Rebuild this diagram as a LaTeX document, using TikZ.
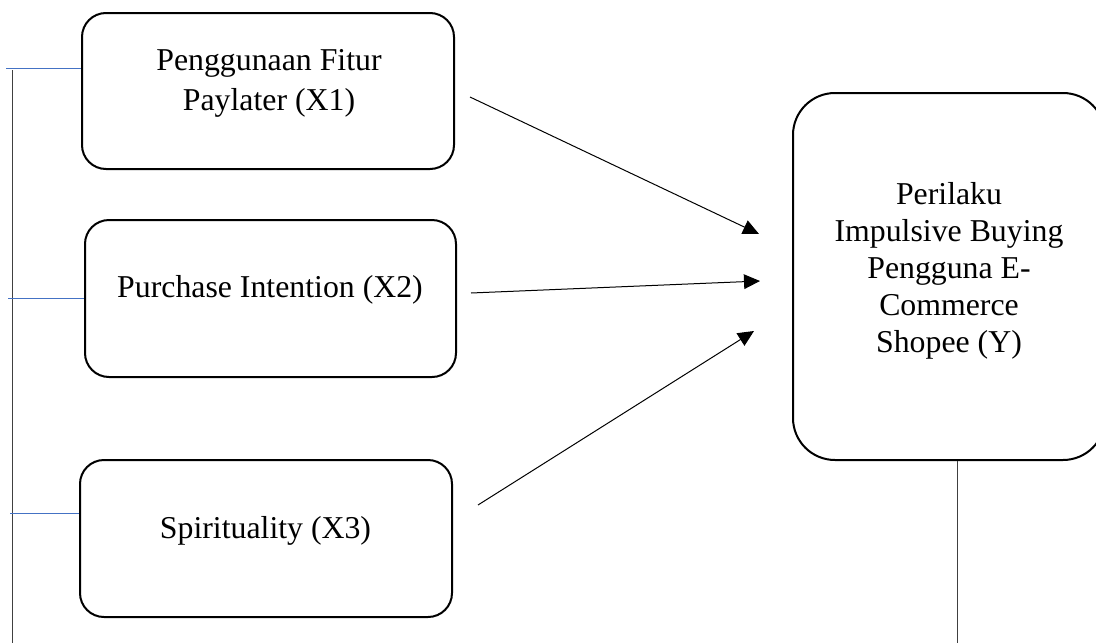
\documentclass[tikz,border=0pt]{standalone}
\usepackage{fontspec}
\setmainfont{Liberation Serif}
\usetikzlibrary{arrows.meta,calc}
\definecolor{wordblue}{HTML}{4472C4}
\definecolor{linegray}{HTML}{404040}
\tikzset{
  varbox/.style={draw=black, line width=1.5pt, rounded corners=18pt, inner sep=0pt},
  ybox/.style={draw=black, line width=1.5pt, rounded corners=31.5pt, inner sep=0pt},
  lbl/.style={align=center, inner sep=0pt, font=\fontsize{23.85}{30}\selectfont},
  ylbl/.style={align=center, inner sep=0pt, font=\fontsize{23.85}{27.75}\selectfont},
  arr/.style={line width=0.75pt, -{Triangle[length=12pt,width=11pt]}},
  tick/.style={wordblue, line width=0.75pt},
  frame/.style={linegray, line width=0.75pt}
}
\begin{document}
\begin{tikzpicture}[x=0.75pt,y=-0.75pt]
\useasboundingbox (0,0) rectangle (1096,643);
\clip (0,0) rectangle (1096,643);
% boxes
\node[varbox, minimum width=279pt, minimum height=117pt] (x1) at (268,91) {};
\node[varbox, minimum width=278.25pt, minimum height=117.75pt] (x2) at (270.5,298.5) {};
\node[varbox, minimum width=279pt, minimum height=117.75pt] (x3) at (266,538.5) {};
\node[ybox, minimum width=234pt, minimum height=275.25pt] (y) at (949,276.5) {};
% texts
\node[lbl] (x1t) at (269,83) {Penggunaan Fitur\\Paylater (X1)};
\node[lbl] (x2t) at (270,289.5) {Purchase Intention (X2)};
\node[lbl] (x3t) at (265.5,530.5) {Spirituality (X3)};
\node[ylbl] (yt) at (949,270.5) {Perilaku\\Impulsive Buying\\Pengguna E-\\Commerce\\Shopee (Y)};
% arrows
\draw[arr] ($(x1.east)+(15,6)$) -- ($(y.west)+(-33,-42.5)$);
\draw[arr] ($(x2.east)+(14,-5.5)$) -- ($(y.west)+(-32,4.5)$);
\draw[arr] ($(x3.east)+(25,-33.5)$) -- ($(y.west)+(-38,54.5)$);
% left frame line and ticks
\coordinate (ltop) at (12,70);
\coordinate (lbot) at (12,643);
\draw[frame] (ltop) -- (lbot);
\coordinate (t1) at (6,68);
\coordinate (t2) at (8,298);
\coordinate (t3) at (10,513);
\draw[tick] (t1) -- (t1 -| x1.west);
\draw[tick] (t2) -- (t2 -| x2.west);
\draw[tick] (t3) -- (t3 -| x3.west);
% line below Y
\coordinate (ybot) at (957,643);
\draw[frame] (ybot |- y.south) -- (ybot);
\end{tikzpicture}
\end{document}
